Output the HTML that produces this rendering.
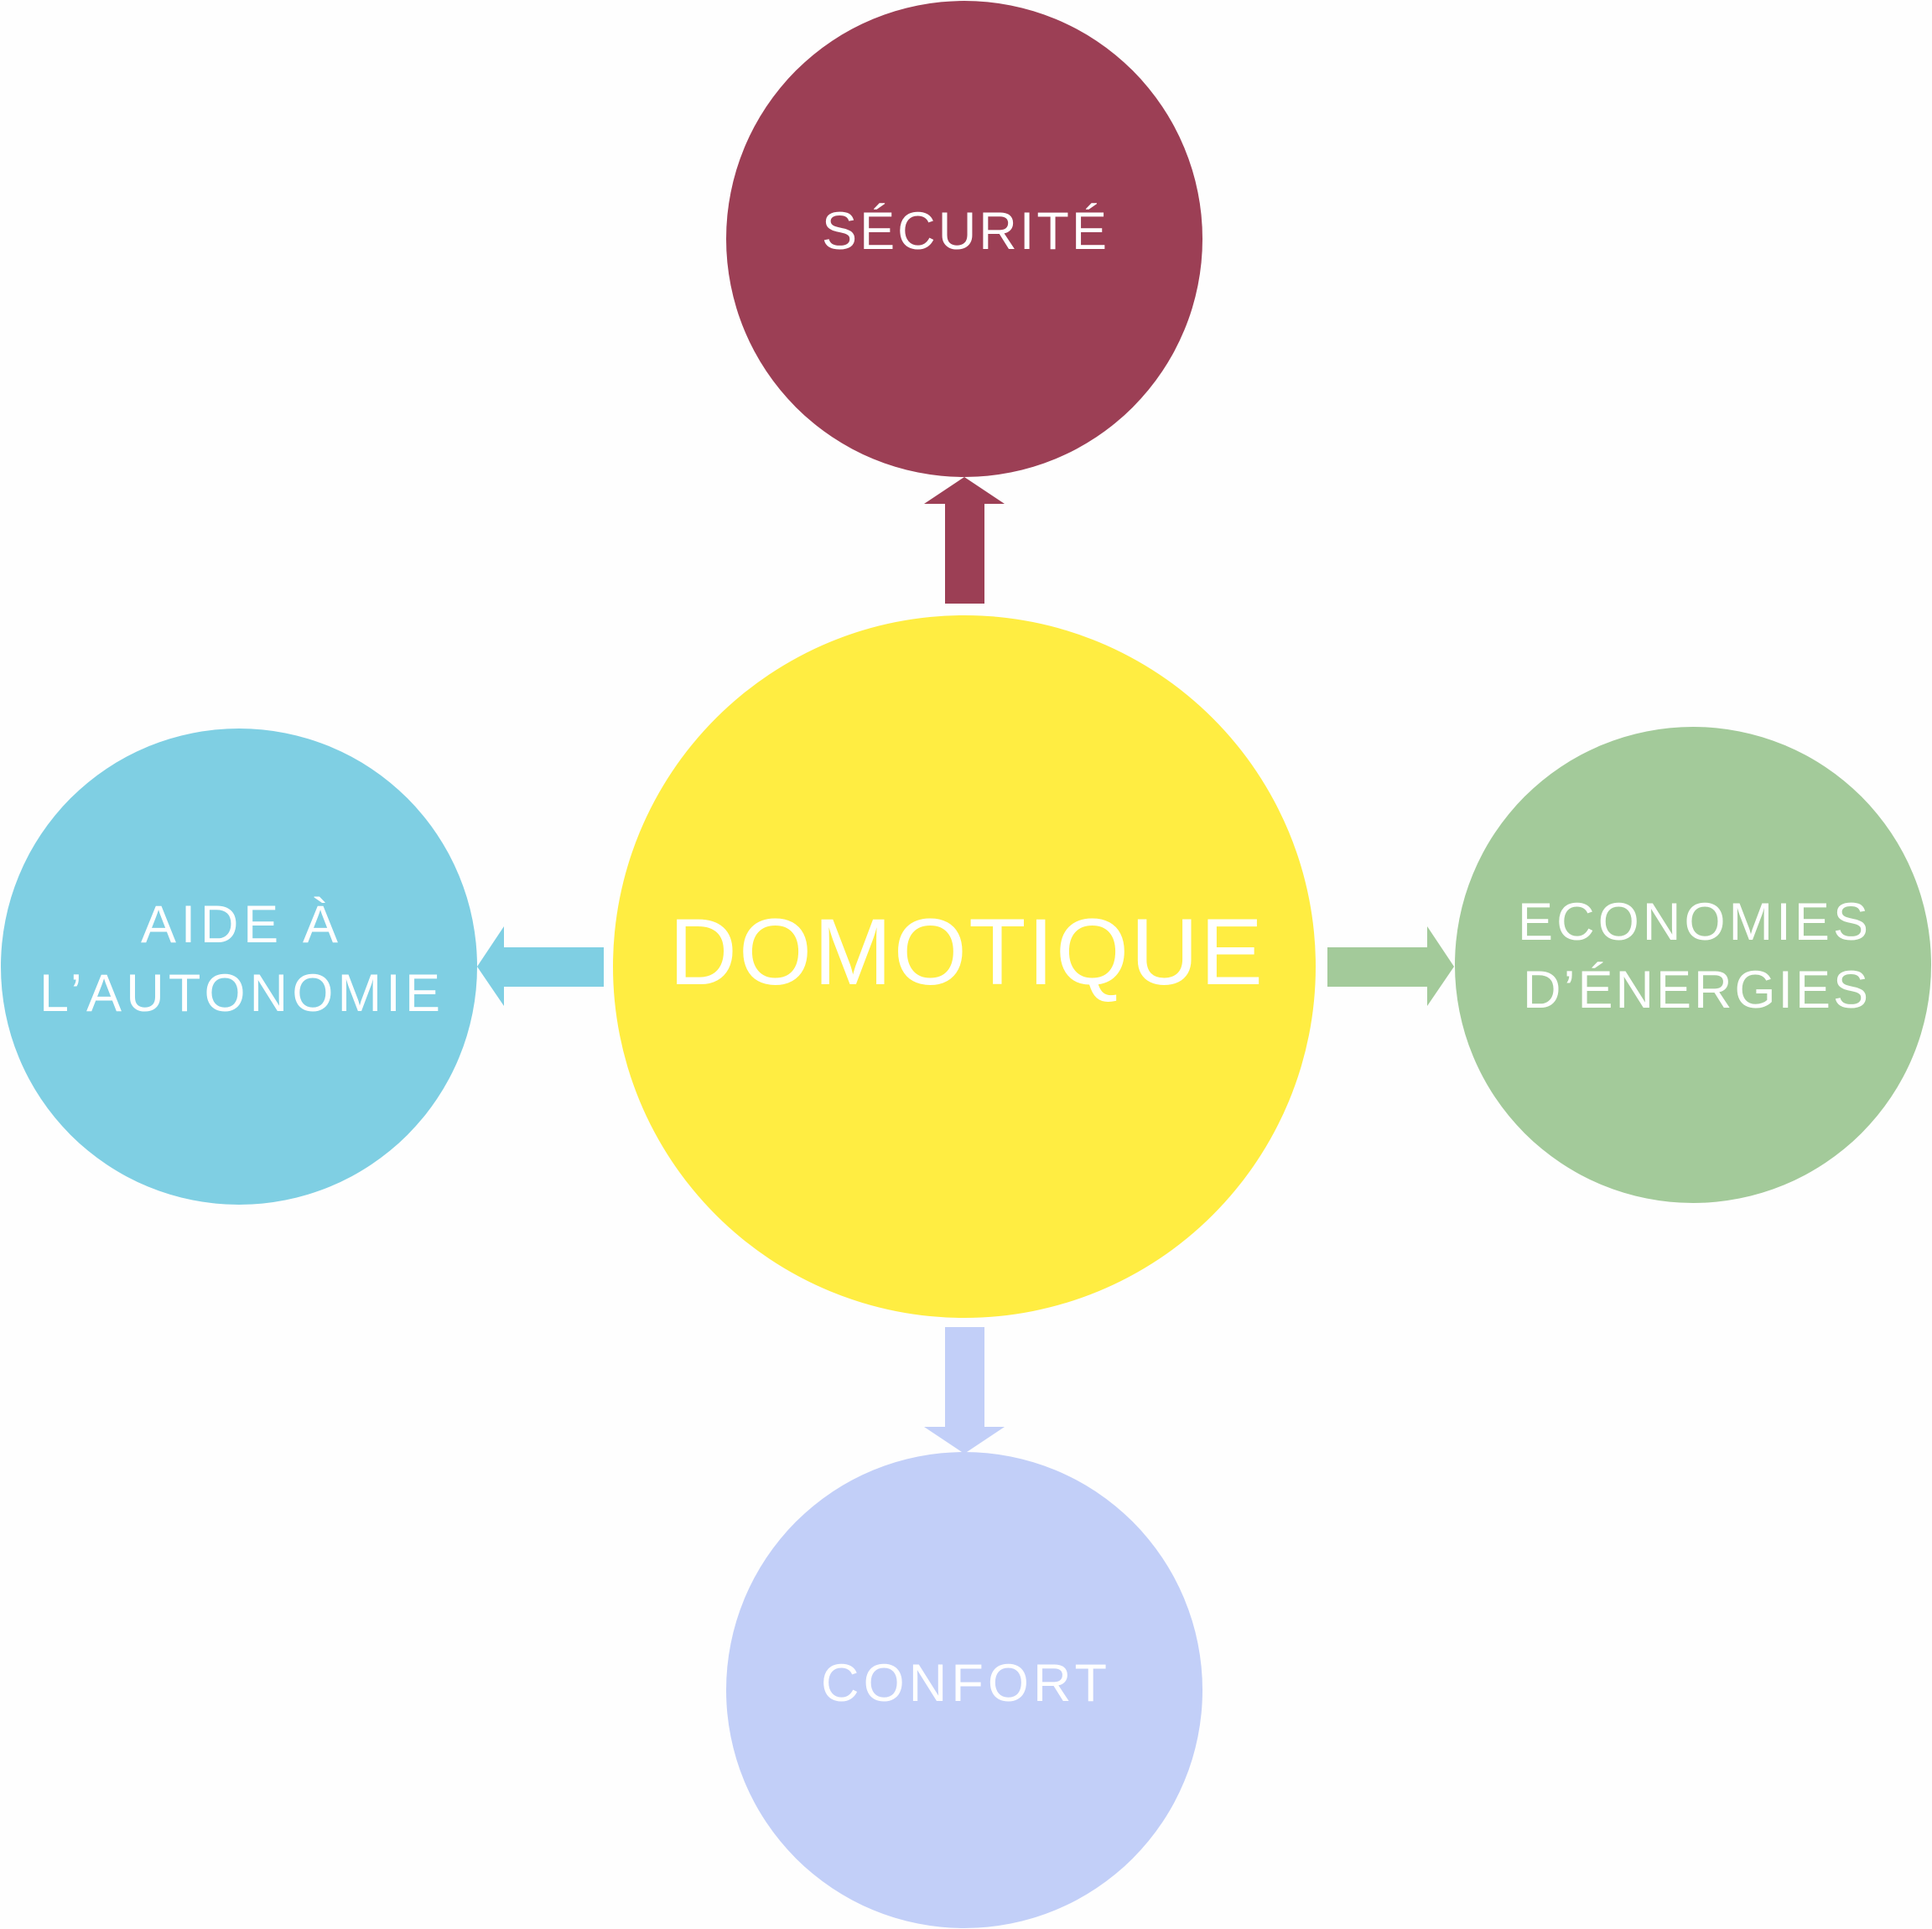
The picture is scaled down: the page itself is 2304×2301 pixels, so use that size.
<!DOCTYPE html>
<html><head><meta charset="utf-8"><style>
html,body{margin:0;padding:0;background:#fff;}
svg{display:block;}
text{font-family:"Liberation Sans",sans-serif;fill:#fff;font-weight:normal;}
</style></head><body>
<svg width="2304" height="2301" viewBox="0 0 2304 2301" xmlns="http://www.w3.org/2000/svg">
<rect width="2304" height="2301" fill="#fefefe"/>
<polygon points="1127,720 1174,720 1174,601 1198,601 1150,569 1102,601 1127,601" fill="#9c3f55"/>
<polygon points="720,1130 720,1177 601,1177 601,1200 569,1153 601,1105 601,1130" fill="#7fcfe3"/>
<polygon points="1583,1130 1583,1177 1702,1177 1702,1200 1734,1153 1702,1105 1702,1130" fill="#a3ca9a"/>
<polygon points="1127,1583 1174,1583 1174,1702 1198,1702 1150,1734 1102,1702 1127,1702" fill="#c2cff8"/>
<circle cx="1150" cy="1153" r="419" fill="#ffed42"/>
<circle cx="1150" cy="285" r="284" fill="#9c3f55"/>
<circle cx="285" cy="1153" r="284" fill="#7fcfe3"/>
<circle cx="2019" cy="1151" r="284" fill="#a3ca9a"/>
<circle cx="1150" cy="2016" r="284" fill="#c2cff8"/>
<text x="798" y="1174" font-size="112" textLength="708" lengthAdjust="spacing">DOMOTIQUE</text>
<text x="980" y="297" font-size="63" textLength="340" lengthAdjust="spacing">SÉCURITÉ</text>
<text x="979" y="2029" font-size="63" textLength="341" lengthAdjust="spacing">CONFORT</text>
<text x="168" y="1124" font-size="63" textLength="235" lengthAdjust="spacing">AIDE À</text>
<text x="47" y="1206" font-size="63" textLength="478" lengthAdjust="spacing">L’AUTONOMIE</text>
<text x="1810" y="1121" font-size="63" textLength="418" lengthAdjust="spacing">ECONOMIES</text>
<text x="1816" y="1202" font-size="63" textLength="412" lengthAdjust="spacing">D’ÉNERGIES</text>
</svg>
</body></html>
